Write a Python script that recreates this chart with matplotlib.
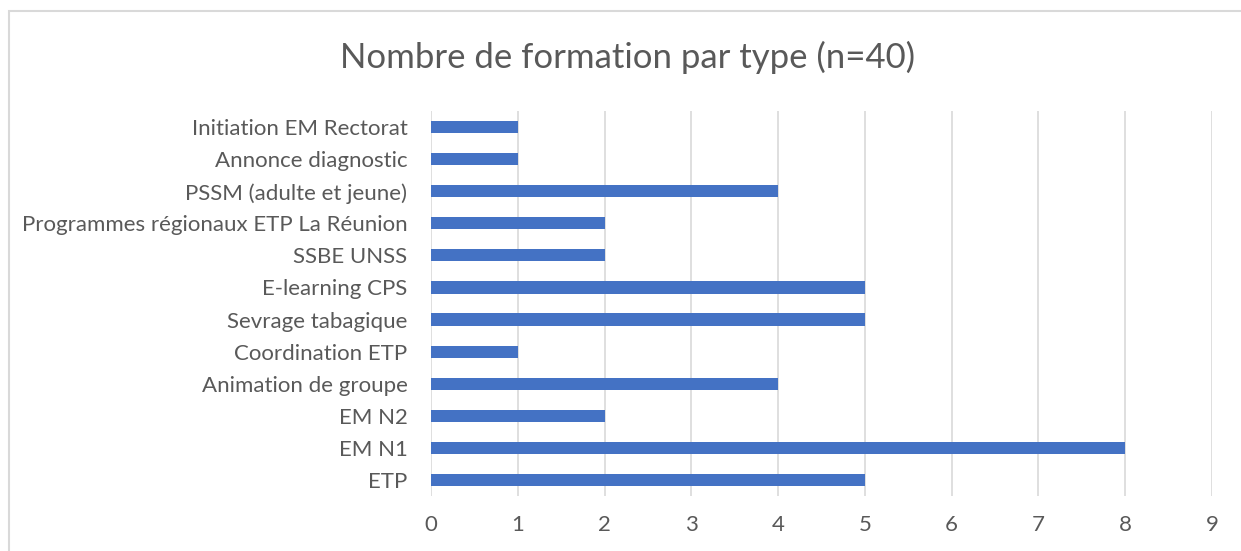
import matplotlib
matplotlib.use("Agg")
import matplotlib.pyplot as plt
from matplotlib.patches import Rectangle

categories = ["ETP", "EM N1", "EM N2", "Animation de groupe", "Coordination ETP",
              "Sevrage tabagique", "E-learning CPS", "SSBE UNSS",
              "Programmes régionaux ETP La Réunion", "PSSM (adulte et jeune)",
              "Annonce diagnostic", "Initiation EM Rectorat"]
counts = [5, 8, 2, 4, 1, 5, 5, 2, 2, 4, 1, 1]
x_ticks = list(range(0, 10))

plt.rcParams['font.family'] = ['Lato', 'DejaVu Sans']
text_color = '#595959'

fig = plt.figure(figsize=(12.41, 5.51), dpi=100)
ax = fig.add_axes([0.3473, 0.0998, 0.6293, 0.6987])

ax.barh(range(len(categories)), counts, height=0.38, color='#4472C4', zorder=3)
ax.set_yticks(range(len(categories)))
ax.set_yticklabels(categories)
ax.set_ylim(-0.5, len(categories) - 0.5)
ax.set_xlim(0, 9)
ax.set_xticks(x_ticks)
ax.grid(axis='x', color='#D9D9D9', linewidth=1.2, zorder=0)
for s in ax.spines.values():
    s.set_visible(False)
ax.tick_params(axis='both', length=0, labelsize=16, labelcolor=text_color)
ax.tick_params(axis='y', pad=17)
ax.tick_params(axis='x', pad=14)

fig.text(0.506, 0.895, "Nombre de formation par type (n=40)", ha='center', va='center',
         fontsize=25, color=text_color)

# chart frame (only left and top edges visible)
fig.patches.append(Rectangle((9 / 1241, -0.1), 1.1, 1.1 - 11 / 551,
                             transform=fig.transFigure, fill=False,
                             edgecolor='#D9D9D9', linewidth=1.5))

fig.savefig('out.png', dpi=100)
